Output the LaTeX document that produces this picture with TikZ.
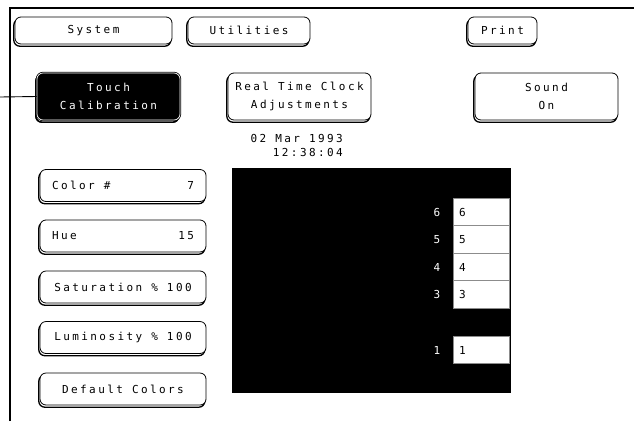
\documentclass[tikz,border=0pt]{standalone}
\usepackage{fontspec}
\newfontfamily\hpfont[LetterSpace=22]{DejaVu Sans Mono}
\usetikzlibrary{positioning}

\begin{document}
\begin{tikzpicture}[
    x=1pt, y=-1pt,
    font=\hpfont\fontsize{11}{18}\selectfont,
    hpbtn/.style={rectangle, draw, rounded corners=6pt, fill=white, line width=0.8pt, align=center, inner sep=0pt,
        preaction={draw, line width=1.3pt, transform canvas={shift={(-1.2pt,-2.2pt)}}}},
    hpdark/.style={hpbtn, fill=black, text=white, double=white, double distance=0.7pt},
    menubtn/.style={hpbtn, minimum height=27pt},
    bigbtn/.style={hpbtn, minimum width=143pt, minimum height=47pt},
    colbtn/.style={hpbtn, minimum width=166pt, minimum height=32pt},
    swatch/.style={rectangle, fill=white, draw=black!45, line width=0.6pt, minimum width=56pt, minimum height=27.5pt,
        text width=44pt, inner sep=0pt, align=left},
    frame/.style={line width=1.6pt}
]
\useasboundingbox (0,0) rectangle (634,421);

% outer frame
\coordinate (fbot) at (10,421);
\coordinate (fcorner) at (10,8);
\coordinate (fright) at (634,8);
\draw[frame] (fbot) -- (fcorner) -- (fright);

% menu row
\node[menubtn, minimum width=157pt] (sys) at (93.5,30.5) {System};
\node[menubtn, minimum width=122pt] (util) at (249,30.5) {Utilities};
\node[menubtn, minimum width=69pt] (print) at (502.5,30.5) {Print};

% big buttons
\node[bigbtn, hpdark] (touch) at (108.5,96.5) {Touch\\Calibration};
\node[bigbtn] (rtc) at (299.5,96.5) {Real Time Clock\\Adjustments};
\node[bigbtn] (sound) at (546.5,96.5) {Sound\\On};
\coordinate (lead) at (0,97);
\draw[line width=0.9pt] (lead) -- (touch.west);

% date and time
\node[align=right, inner sep=0pt, font=\hpfont\fontsize{11}{14}\selectfont, anchor=north east] (clock) at (343,134) {02 Mar 1993\\12:38:04};

% colour controls
\node[colbtn] (color) at (123,185.5) {\hbox to 142pt{Color \#\hfill 7}};
\node[colbtn] (hue) at (123,236) {\hbox to 142pt{Hue\hfill 15}};
\node[colbtn] (sat) at (123,287) {Saturation \% 100};
\node[colbtn] (lum) at (123,337.5) {Luminosity \% 100};
\node[colbtn] (defcol) at (123,389) {Default Colors};

% screen area
\node[fill=black, minimum width=279pt, minimum height=225pt, inner sep=0pt, anchor=north west] (screen) at (232,168) {};
\foreach \n/\y in {6/212,5/239.5,4/267,3/294.5,1/350} {
    \node[swatch] (sw\n) at (481,\y) {\n};
    \node[text=white, left=9pt of sw\n] (lb\n) {\n};
}
\end{tikzpicture}
\end{document}
